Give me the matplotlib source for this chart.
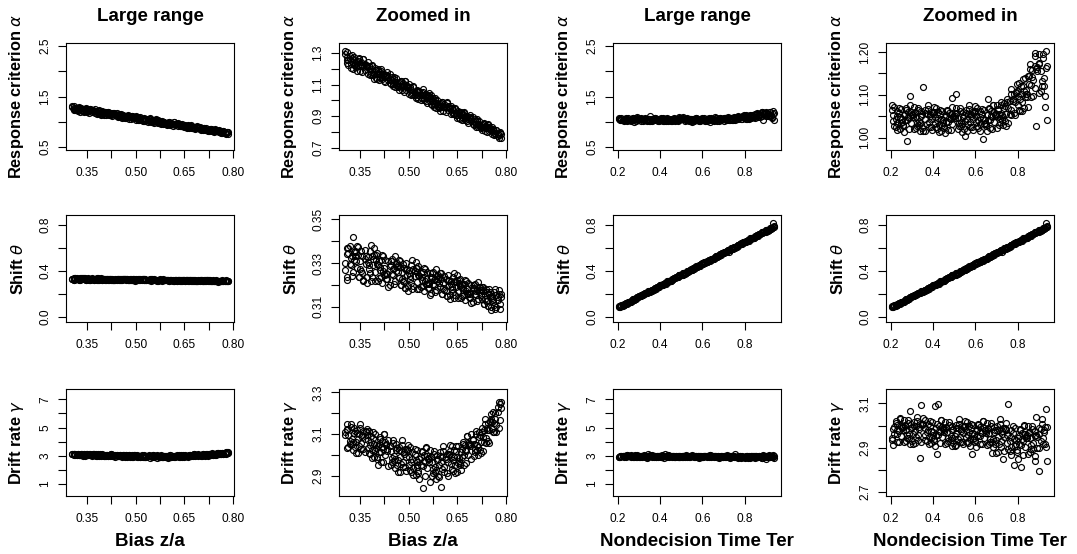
import matplotlib
matplotlib.use("Agg")
import matplotlib.pyplot as plt

plt.rcParams['font.family'] = ['Liberation Sans', 'DejaVu Sans']
plt.rcParams['mathtext.fontset'] = 'dejavusans'

# ---------------- data (two replicate runs per x value) ----------------
bias = [0.305, 0.309, 0.311, 0.314, 0.318, 0.321, 0.325, 0.328, 0.331, 0.335,
        0.338, 0.340, 0.344, 0.347, 0.350, 0.353, 0.357, 0.360, 0.364, 0.367,
        0.370, 0.373, 0.376, 0.380, 0.383, 0.386, 0.389, 0.393, 0.396, 0.399,
        0.402, 0.405, 0.409, 0.412, 0.415, 0.418, 0.422, 0.425, 0.428, 0.431,
        0.434, 0.437, 0.441, 0.444, 0.447, 0.450, 0.454, 0.457, 0.460, 0.463,
        0.466, 0.469, 0.473, 0.476, 0.479, 0.482, 0.486, 0.489, 0.492, 0.495,
        0.498, 0.501, 0.505, 0.508, 0.511, 0.514, 0.518, 0.521, 0.524, 0.527,
        0.530, 0.533, 0.537, 0.540, 0.543, 0.546, 0.550, 0.553, 0.556, 0.559,
        0.562, 0.565, 0.569, 0.572, 0.575, 0.578, 0.582, 0.585, 0.588, 0.591,
        0.594, 0.597, 0.601, 0.604, 0.607, 0.610, 0.614, 0.617, 0.620, 0.623,
        0.626, 0.629, 0.633, 0.636, 0.639, 0.642, 0.646, 0.649, 0.652, 0.655,
        0.658, 0.661, 0.665, 0.668, 0.671, 0.674, 0.678, 0.681, 0.684, 0.687,
        0.690, 0.693, 0.697, 0.700, 0.703, 0.706, 0.710, 0.713, 0.716, 0.719,
        0.722, 0.725, 0.729, 0.732, 0.735, 0.738, 0.742, 0.745, 0.748, 0.751,
        0.754, 0.757, 0.761, 0.764, 0.767, 0.770, 0.774, 0.777, 0.780, 0.784]

alpha_bias = [1.297, 1.253, 1.304, 1.224, 1.262, 1.230, 1.268, 1.201, 1.275, 1.235,
              1.209, 1.246, 1.225, 1.266, 1.187, 1.245, 1.220, 1.262, 1.195, 1.223,
              1.219, 1.168, 1.220, 1.201, 1.170, 1.226, 1.179, 1.168, 1.204, 1.145,
              1.167, 1.196, 1.132, 1.178, 1.189, 1.146, 1.161, 1.126, 1.147, 1.162,
              1.162, 1.127, 1.166, 1.103, 1.132, 1.106, 1.135, 1.083, 1.139, 1.107,
              1.083, 1.112, 1.094, 1.126, 1.063, 1.109, 1.088, 1.120, 1.067, 1.089,
              1.085, 1.042, 1.085, 1.068, 1.042, 1.088, 1.048, 1.039, 1.068, 1.019,
              1.035, 1.062, 1.002, 1.045, 1.055, 1.015, 1.029, 0.996, 1.015, 1.029,
              1.028, 0.996, 1.031, 0.973, 0.999, 0.976, 1.002, 0.954, 1.004, 0.976,
              0.954, 0.979, 0.963, 0.992, 0.934, 0.975, 0.956, 0.985, 0.936, 0.956,
              0.952, 0.913, 0.951, 0.936, 0.912, 0.953, 0.917, 0.908, 0.934, 0.889,
              0.904, 0.927, 0.875, 0.911, 0.919, 0.885, 0.896, 0.867, 0.883, 0.894,
              0.893, 0.866, 0.893, 0.846, 0.867, 0.847, 0.867, 0.828, 0.868, 0.844,
              0.826, 0.846, 0.832, 0.854, 0.808, 0.840, 0.824, 0.846, 0.807, 0.822,
              0.818, 0.788, 0.815, 0.803, 0.785, 0.814, 0.787, 0.779, 0.797, 0.762]
alpha_bias_2 = [1.315, 1.277, 1.234, 1.255, 1.282, 1.208, 1.285, 1.246, 1.223, 1.225,
                1.215, 1.187, 1.249, 1.260, 1.217, 1.228, 1.180, 1.261, 1.233, 1.220,
                1.212, 1.244, 1.221, 1.162, 1.179, 1.220, 1.162, 1.138, 1.190, 1.192,
                1.138, 1.187, 1.168, 1.148, 1.201, 1.133, 1.166, 1.170, 1.115, 1.164,
                1.177, 1.146, 1.111, 1.127, 1.148, 1.088, 1.149, 1.117, 1.098, 1.099,
                1.088, 1.065, 1.114, 1.122, 1.087, 1.095, 1.056, 1.120, 1.097, 1.086,
                1.079, 1.104, 1.085, 1.037, 1.050, 1.082, 1.035, 1.015, 1.056, 1.057,
                1.006, 1.055, 1.036, 1.016, 1.069, 1.001, 1.034, 1.038, 0.983, 1.032,
                1.045, 1.014, 0.979, 0.995, 1.016, 0.956, 1.017, 0.985, 0.966, 0.967,
                0.956, 0.933, 0.982, 0.990, 0.955, 0.963, 0.924, 0.988, 0.965, 0.954,
                0.946, 0.966, 0.950, 0.911, 0.920, 0.945, 0.907, 0.890, 0.922, 0.923,
                0.881, 0.920, 0.904, 0.887, 0.929, 0.874, 0.900, 0.902, 0.857, 0.896,
                0.906, 0.880, 0.852, 0.864, 0.880, 0.831, 0.879, 0.853, 0.837, 0.837,
                0.828, 0.809, 0.848, 0.853, 0.825, 0.830, 0.798, 0.849, 0.830, 0.820,
                0.814, 0.830, 0.816, 0.781, 0.790, 0.811, 0.777, 0.762, 0.790, 0.789]

theta_bias = [0.3299, 0.3371, 0.3235, 0.3347, 0.3379, 0.3291, 0.3331, 0.3259, 0.3315, 0.3355,
              0.3350, 0.3278, 0.3374, 0.3238, 0.3310, 0.3262, 0.3334, 0.3222, 0.3358, 0.3294,
              0.3234, 0.3306, 0.3274, 0.3354, 0.3218, 0.3330, 0.3290, 0.3370, 0.3258, 0.3314,
              0.3297, 0.3219, 0.3310, 0.3284, 0.3238, 0.3336, 0.3264, 0.3251, 0.3316, 0.3225,
              0.3252, 0.3311, 0.3200, 0.3291, 0.3317, 0.3246, 0.3278, 0.3220, 0.3265, 0.3298,
              0.3291, 0.3233, 0.3311, 0.3200, 0.3259, 0.3220, 0.3278, 0.3187, 0.3298, 0.3246,
              0.3195, 0.3253, 0.3227, 0.3292, 0.3182, 0.3273, 0.3240, 0.3305, 0.3214, 0.3260,
              0.3245, 0.3179, 0.3256, 0.3234, 0.3195, 0.3278, 0.3217, 0.3206, 0.3261, 0.3184,
              0.3205, 0.3255, 0.3161, 0.3238, 0.3260, 0.3200, 0.3227, 0.3178, 0.3216, 0.3244,
              0.3237, 0.3188, 0.3254, 0.3160, 0.3210, 0.3177, 0.3226, 0.3149, 0.3243, 0.3199,
              0.3154, 0.3203, 0.3181, 0.3236, 0.3142, 0.3220, 0.3192, 0.3247, 0.3170, 0.3209,
              0.3194, 0.3140, 0.3203, 0.3185, 0.3153, 0.3221, 0.3171, 0.3162, 0.3207, 0.3144,
              0.3159, 0.3200, 0.3123, 0.3186, 0.3204, 0.3155, 0.3177, 0.3137, 0.3168, 0.3191,
              0.3177, 0.3137, 0.3191, 0.3114, 0.3155, 0.3128, 0.3168, 0.3105, 0.3182, 0.3146,
              0.3099, 0.3139, 0.3121, 0.3166, 0.3090, 0.3153, 0.3130, 0.3175, 0.3112, 0.3144]
theta_bias_2 = [0.3269, 0.3223, 0.3343, 0.3370, 0.3297, 0.3324, 0.3241, 0.3420, 0.3352, 0.3333,
                0.3311, 0.3376, 0.3339, 0.3238, 0.3274, 0.3357, 0.3256, 0.3219, 0.3320, 0.3330,
                0.3207, 0.3327, 0.3290, 0.3253, 0.3382, 0.3235, 0.3318, 0.3336, 0.3216, 0.3336,
                0.3345, 0.3292, 0.3232, 0.3269, 0.3315, 0.3209, 0.3330, 0.3277, 0.3247, 0.3254,
                0.3227, 0.3190, 0.3288, 0.3310, 0.3250, 0.3273, 0.3205, 0.3333, 0.3295, 0.3280,
                0.3260, 0.3312, 0.3282, 0.3199, 0.3229, 0.3297, 0.3214, 0.3184, 0.3267, 0.3275,
                0.3172, 0.3270, 0.3240, 0.3210, 0.3315, 0.3195, 0.3263, 0.3278, 0.3180, 0.3278,
                0.3285, 0.3241, 0.3190, 0.3222, 0.3260, 0.3171, 0.3272, 0.3228, 0.3203, 0.3209,
                0.3184, 0.3153, 0.3235, 0.3254, 0.3203, 0.3222, 0.3166, 0.3273, 0.3241, 0.3229,
                0.3210, 0.3254, 0.3229, 0.3160, 0.3185, 0.3242, 0.3172, 0.3147, 0.3217, 0.3223,
                0.3135, 0.3217, 0.3192, 0.3167, 0.3255, 0.3154, 0.3211, 0.3224, 0.3142, 0.3224,
                0.3227, 0.3190, 0.3149, 0.3175, 0.3206, 0.3133, 0.3216, 0.3180, 0.3159, 0.3164,
                0.3142, 0.3116, 0.3184, 0.3199, 0.3158, 0.3173, 0.3126, 0.3215, 0.3189, 0.3178,
                0.3155, 0.3192, 0.3171, 0.3114, 0.3134, 0.3181, 0.3124, 0.3103, 0.3160, 0.3166,
                0.3083, 0.3151, 0.3130, 0.3109, 0.3182, 0.3099, 0.3146, 0.3156, 0.3088, 0.3156]

gamma_bias = [3.110, 3.032, 3.123, 3.097, 3.051, 3.149, 3.077, 3.064, 3.129, 3.038,
              3.062, 3.121, 3.010, 3.101, 3.127, 3.056, 3.088, 3.030, 3.075, 3.108,
              3.094, 3.036, 3.114, 3.003, 3.062, 3.023, 3.081, 2.990, 3.101, 3.049,
              2.981, 3.044, 3.016, 3.086, 2.967, 3.065, 3.030, 3.100, 3.002, 3.051,
              3.031, 2.947, 3.045, 3.017, 2.968, 3.073, 2.996, 2.982, 3.052, 2.954,
              2.976, 3.039, 2.920, 3.018, 3.046, 2.969, 3.004, 2.941, 2.990, 3.025,
              3.017, 2.954, 3.038, 2.919, 2.982, 2.940, 3.003, 2.905, 3.024, 2.968,
              2.916, 2.979, 2.951, 3.021, 2.840, 3.000, 2.965, 3.035, 2.937, 2.986,
              2.979, 2.870, 2.993, 2.965, 2.916, 3.021, 2.944, 2.930, 3.000, 2.902,
              2.951, 3.014, 2.845, 2.993, 3.021, 2.944, 2.979, 2.916, 2.965, 3.000,
              3.017, 2.956, 3.042, 2.926, 2.992, 2.952, 3.017, 2.921, 3.042, 2.988,
              2.952, 3.015, 2.992, 3.061, 2.954, 3.050, 3.021, 3.090, 3.002, 3.052,
              3.055, 2.980, 3.077, 3.055, 3.014, 3.116, 3.049, 3.040, 3.110, 3.023,
              3.062, 3.127, 3.021, 3.118, 3.149, 3.083, 3.121, 3.068, 3.119, 3.158,
              3.171, 3.125, 3.205, 3.110, 3.172, 3.144, 3.206, 3.129, 3.245, 3.225]
gamma_bias_2 = [3.098, 3.150, 3.120, 3.038, 3.068, 3.135, 3.053, 3.023, 3.105, 3.113,
                3.008, 3.105, 3.075, 3.045, 3.150, 3.030, 3.098, 3.113, 3.015, 3.113,
                3.123, 3.070, 3.010, 3.048, 3.093, 2.988, 3.108, 3.055, 3.025, 3.033,
                2.990, 2.950, 3.054, 3.078, 3.014, 3.038, 2.966, 3.102, 3.062, 3.046,
                3.018, 3.074, 3.042, 2.954, 2.986, 3.058, 2.970, 2.938, 3.026, 3.034,
                2.918, 3.022, 2.990, 2.958, 3.070, 2.942, 3.014, 3.030, 2.926, 3.030,
                3.047, 2.991, 2.927, 2.967, 3.015, 2.903, 3.031, 2.975, 2.943, 2.951,
                2.925, 2.885, 2.989, 3.013, 2.949, 2.973, 2.901, 3.037, 2.997, 2.981,
                2.966, 3.022, 2.990, 2.902, 2.934, 3.006, 2.918, 2.886, 2.974, 2.982,
                2.893, 2.997, 2.965, 2.933, 3.045, 2.917, 2.989, 3.005, 2.901, 3.005,
                3.047, 2.993, 2.931, 2.974, 3.024, 2.914, 3.044, 2.991, 2.961, 2.971,
                2.961, 2.927, 3.028, 3.054, 2.998, 3.025, 2.961, 3.093, 3.058, 3.047,
                3.043, 3.099, 3.074, 2.996, 3.031, 3.102, 3.025, 2.999, 3.086, 3.098,
                3.008, 3.111, 3.086, 3.062, 3.172, 3.058, 3.131, 3.152, 3.059, 3.163,
                3.198, 3.157, 3.109, 3.151, 3.201, 3.111, 3.231, 3.255, 3.169, 3.252]

ter = [0.208, 0.213, 0.217, 0.223, 0.228, 0.232, 0.238, 0.243, 0.247, 0.252,
       0.257, 0.262, 0.266, 0.272, 0.277, 0.281, 0.287, 0.292, 0.296, 0.301,
       0.306, 0.311, 0.315, 0.321, 0.326, 0.330, 0.336, 0.341, 0.345, 0.350,
       0.355, 0.360, 0.364, 0.370, 0.375, 0.379, 0.385, 0.390, 0.394, 0.399,
       0.404, 0.409, 0.413, 0.419, 0.424, 0.428, 0.434, 0.439, 0.443, 0.448,
       0.453, 0.458, 0.462, 0.468, 0.473, 0.477, 0.483, 0.488, 0.492, 0.497,
       0.502, 0.507, 0.511, 0.517, 0.522, 0.526, 0.532, 0.537, 0.541, 0.546,
       0.551, 0.556, 0.560, 0.566, 0.571, 0.575, 0.581, 0.586, 0.590, 0.595,
       0.600, 0.605, 0.609, 0.615, 0.620, 0.624, 0.630, 0.635, 0.639, 0.644,
       0.649, 0.654, 0.658, 0.664, 0.669, 0.673, 0.679, 0.684, 0.688, 0.693,
       0.698, 0.703, 0.707, 0.713, 0.718, 0.722, 0.728, 0.733, 0.737, 0.742,
       0.747, 0.752, 0.756, 0.762, 0.767, 0.771, 0.777, 0.782, 0.786, 0.791,
       0.796, 0.801, 0.805, 0.811, 0.816, 0.820, 0.826, 0.831, 0.835, 0.840,
       0.845, 0.850, 0.854, 0.860, 0.865, 0.869, 0.875, 0.880, 0.884, 0.889,
       0.894, 0.899, 0.903, 0.909, 0.914, 0.918, 0.924, 0.929, 0.933, 0.940]

alpha_ter = [1.064, 1.039, 1.072, 1.025, 1.050, 1.033, 1.058, 1.019, 1.067, 1.044,
             1.026, 1.052, 1.040, 1.068, 0.992, 1.060, 1.046, 1.098, 1.035, 1.054,
             1.053, 1.020, 1.059, 1.048, 1.028, 1.070, 1.039, 1.034, 1.062, 1.023,
             1.118, 1.064, 1.016, 1.055, 1.066, 1.036, 1.050, 1.024, 1.044, 1.058,
             1.060, 1.035, 1.068, 1.021, 1.046, 1.029, 1.054, 1.015, 1.063, 1.040,
             1.023, 1.049, 1.037, 1.065, 1.018, 1.057, 1.043, 1.071, 1.032, 1.051,
             1.051, 1.102, 1.057, 1.046, 1.026, 1.068, 1.037, 1.032, 1.060, 1.021,
             1.038, 1.064, 1.016, 1.055, 1.066, 1.036, 1.050, 1.024, 1.044, 1.058,
             1.062, 1.037, 1.070, 1.023, 1.048, 1.031, 1.056, 0.996, 1.065, 1.042,
             1.027, 1.053, 1.041, 1.069, 1.022, 1.061, 1.047, 1.075, 1.036, 1.055,
             1.056, 1.022, 1.066, 1.056, 1.037, 1.084, 1.053, 1.049, 1.080, 1.039,
             1.056, 1.091, 1.033, 1.085, 1.102, 1.065, 1.086, 1.057, 1.084, 1.105,
             1.109, 1.076, 1.128, 1.063, 1.102, 1.082, 1.121, 1.068, 1.140, 1.111,
             1.103, 1.144, 1.126, 1.171, 1.094, 1.158, 1.135, 1.198, 1.117, 1.028,
             1.165, 1.105, 1.175, 1.155, 1.120, 1.195, 1.140, 1.072, 1.203, 1.040]
alpha_ter_2 = [1.076, 1.053, 1.028, 1.044, 1.063, 1.018, 1.069, 1.047, 1.034, 1.037,
               1.030, 1.014, 1.056, 1.065, 1.040, 1.049, 1.020, 1.075, 1.059, 1.052,
               1.048, 1.071, 1.058, 1.023, 1.035, 1.064, 1.029, 1.016, 1.051, 1.055,
               1.015, 1.057, 1.044, 1.031, 1.076, 1.025, 1.054, 1.060, 1.018, 1.060,
               1.072, 1.049, 1.024, 1.040, 1.059, 1.014, 1.065, 1.043, 1.030, 1.033,
               1.027, 1.011, 1.053, 1.062, 1.037, 1.046, 1.017, 1.092, 1.056, 1.049,
               1.046, 1.069, 1.056, 1.021, 1.033, 1.062, 1.027, 1.014, 1.049, 1.053,
               1.003, 1.057, 1.044, 1.031, 1.076, 1.025, 1.054, 1.060, 1.018, 1.060,
               1.074, 1.051, 1.026, 1.042, 1.061, 1.016, 1.067, 1.045, 1.032, 1.035,
               1.031, 1.015, 1.090, 1.066, 1.041, 1.050, 1.021, 1.076, 1.060, 1.053,
               1.050, 1.076, 1.065, 1.029, 1.045, 1.077, 1.042, 1.030, 1.069, 1.073,
               1.027, 1.082, 1.068, 1.055, 1.114, 1.052, 1.091, 1.102, 1.052, 1.107,
               1.126, 1.097, 1.064, 1.090, 1.121, 1.061, 1.137, 1.108, 1.094, 1.101,
               1.094, 1.071, 1.143, 1.161, 1.123, 1.142, 1.098, 1.190, 1.168, 1.160,
               1.156, 1.196, 1.173, 1.109, 1.133, 1.185, 1.121, 1.098, 1.162, 1.167]

theta_ter = [0.091, 0.090, 0.101, 0.097, 0.108, 0.108, 0.119, 0.116, 0.130, 0.130,
             0.129, 0.140, 0.141, 0.153, 0.148, 0.161, 0.164, 0.175, 0.170, 0.179,
             0.182, 0.180, 0.192, 0.196, 0.197, 0.210, 0.209, 0.213, 0.223, 0.220,
             0.226, 0.236, 0.230, 0.244, 0.252, 0.249, 0.258, 0.258, 0.266, 0.274,
             0.277, 0.277, 0.288, 0.284, 0.294, 0.295, 0.306, 0.303, 0.317, 0.317,
             0.316, 0.326, 0.328, 0.340, 0.335, 0.347, 0.350, 0.361, 0.357, 0.366,
             0.369, 0.366, 0.379, 0.382, 0.383, 0.396, 0.396, 0.399, 0.409, 0.406,
             0.412, 0.423, 0.417, 0.431, 0.438, 0.436, 0.445, 0.444, 0.453, 0.461,
             0.464, 0.463, 0.475, 0.470, 0.481, 0.481, 0.493, 0.489, 0.503, 0.504,
             0.503, 0.513, 0.515, 0.527, 0.521, 0.534, 0.537, 0.548, 0.543, 0.553,
             0.555, 0.553, 0.565, 0.569, 0.570, 0.583, 0.566, 0.586, 0.596, 0.593,
             0.599, 0.609, 0.603, 0.618, 0.625, 0.622, 0.631, 0.631, 0.639, 0.647,
             0.650, 0.650, 0.661, 0.657, 0.667, 0.668, 0.679, 0.676, 0.690, 0.690,
             0.689, 0.700, 0.701, 0.713, 0.708, 0.720, 0.723, 0.734, 0.730, 0.739,
             0.742, 0.740, 0.752, 0.756, 0.756, 0.769, 0.769, 0.773, 0.815, 0.781]
theta_ter_2 = [0.093, 0.093, 0.092, 0.101, 0.111, 0.105, 0.122, 0.122, 0.123, 0.129,
               0.130, 0.132, 0.145, 0.153, 0.152, 0.158, 0.158, 0.175, 0.175, 0.179,
               0.181, 0.191, 0.192, 0.190, 0.198, 0.209, 0.207, 0.209, 0.221, 0.226,
               0.221, 0.235, 0.236, 0.239, 0.254, 0.247, 0.259, 0.265, 0.260, 0.274,
               0.280, 0.280, 0.278, 0.288, 0.297, 0.291, 0.309, 0.309, 0.310, 0.316,
               0.317, 0.318, 0.331, 0.339, 0.339, 0.345, 0.345, 0.362, 0.362, 0.366,
               0.368, 0.377, 0.379, 0.377, 0.385, 0.395, 0.393, 0.396, 0.407, 0.413,
               0.407, 0.421, 0.423, 0.426, 0.441, 0.433, 0.446, 0.452, 0.447, 0.461,
               0.466, 0.467, 0.465, 0.474, 0.484, 0.478, 0.495, 0.495, 0.496, 0.502,
               0.503, 0.505, 0.518, 0.526, 0.525, 0.532, 0.531, 0.548, 0.549, 0.552,
               0.554, 0.564, 0.565, 0.564, 0.571, 0.582, 0.580, 0.582, 0.594, 0.600,
               0.594, 0.608, 0.609, 0.612, 0.627, 0.620, 0.632, 0.639, 0.634, 0.648,
               0.653, 0.653, 0.652, 0.661, 0.670, 0.664, 0.682, 0.682, 0.683, 0.689,
               0.690, 0.691, 0.705, 0.713, 0.712, 0.718, 0.718, 0.735, 0.735, 0.739,
               0.741, 0.751, 0.752, 0.750, 0.758, 0.768, 0.767, 0.769, 0.780, 0.788]

gamma_ter = [2.937, 2.986, 2.964, 3.019, 2.925, 3.003, 2.975, 3.030, 2.953, 2.992,
             2.992, 2.926, 3.003, 2.981, 2.942, 3.025, 2.964, 3.065, 3.008, 2.931,
             2.964, 3.014, 2.920, 2.997, 3.019, 2.959, 2.986, 2.852, 3.095, 3.003,
             3.008, 2.959, 3.025, 2.931, 2.981, 2.948, 2.997, 2.920, 3.014, 2.970,
             2.932, 3.088, 2.959, 2.872, 3.098, 2.998, 2.970, 3.025, 2.948, 2.987,
             2.982, 2.916, 2.993, 2.971, 2.932, 3.015, 2.954, 2.943, 2.998, 2.921,
             2.954, 3.004, 2.910, 2.987, 3.009, 2.949, 2.976, 2.927, 2.965, 2.993,
             2.998, 2.949, 3.015, 2.921, 2.971, 2.938, 2.987, 2.872, 3.004, 2.960,
             2.927, 2.976, 2.954, 3.009, 2.916, 2.993, 2.965, 3.020, 2.943, 2.982,
             2.977, 2.911, 2.988, 2.966, 2.927, 3.010, 2.875, 2.938, 2.993, 2.916,
             2.936, 2.999, 2.880, 2.978, 3.006, 2.929, 2.964, 2.848, 2.950, 2.985,
             2.982, 2.919, 3.098, 2.884, 2.947, 2.905, 2.968, 2.822, 2.989, 2.933,
             2.881, 2.944, 2.916, 2.986, 2.812, 2.965, 2.930, 3.000, 2.902, 2.951,
             2.956, 2.872, 2.970, 2.942, 2.893, 2.998, 2.921, 2.840, 2.977, 3.040,
             2.948, 2.795, 2.900, 2.984, 3.008, 2.942, 2.972, 2.918, 3.075, 2.842]
gamma_ter_2 = [2.943, 2.912, 2.994, 3.013, 2.962, 2.981, 2.925, 3.032, 3.000, 2.988,
               2.981, 3.025, 3.000, 2.931, 2.956, 3.013, 2.943, 2.918, 2.988, 2.994,
               2.918, 3.000, 2.975, 2.950, 3.038, 2.937, 2.994, 3.007, 2.925, 3.007,
               3.032, 2.988, 2.937, 2.969, 3.007, 2.918, 3.019, 2.975, 2.950, 2.956,
               2.938, 2.907, 2.989, 3.008, 2.957, 2.976, 2.920, 3.027, 2.995, 2.983,
               2.971, 3.015, 2.990, 2.921, 2.946, 3.003, 2.933, 2.908, 2.978, 2.984,
               2.908, 2.990, 2.965, 2.940, 3.028, 2.927, 2.984, 2.997, 2.915, 2.997,
               3.022, 2.978, 2.927, 2.959, 2.997, 2.908, 3.009, 2.965, 2.940, 2.946,
               2.933, 2.902, 2.984, 3.003, 2.952, 2.971, 2.915, 3.022, 2.990, 2.978,
               2.966, 3.010, 2.985, 2.916, 2.941, 2.998, 2.928, 2.903, 2.973, 2.979,
               2.878, 2.982, 2.950, 2.918, 3.030, 2.902, 2.974, 2.990, 2.886, 2.990,
               3.012, 2.956, 2.892, 2.932, 2.980, 2.868, 2.996, 2.940, 2.908, 2.916,
               2.890, 2.850, 2.954, 2.978, 2.914, 2.938, 2.866, 3.002, 2.962, 2.946,
               2.943, 2.999, 2.967, 2.879, 2.911, 2.983, 2.895, 2.863, 2.951, 2.959,
               2.897, 2.988, 2.960, 2.932, 3.030, 2.918, 2.981, 2.995, 2.904, 2.995]

titles = ["Large range", "Zoomed in", "Large range", "Zoomed in"]
ylabels = [r"Response criterion $\alpha$", r"Shift $\theta$", r"Drift rate $\gamma$"]
xlabels = ["Bias z/a", "Bias z/a", "Nondecision Time Ter", "Nondecision Time Ter"]

bias_ticks = [0.35, 0.425, 0.50, 0.575, 0.65, 0.725, 0.80]
bias_ticklabels = ["0.35", "", "0.50", "", "0.65", "", "0.80"]
ter_ticks = [0.2, 0.4, 0.6, 0.8]
ter_ticklabels = ["0.2", "0.4", "0.6", "0.8"]

# y axis per panel: (ylim, ticks, labels)
Y_ALPHA_L = ((0.44, 2.56), [0.5, 1.0, 1.5, 2.0, 2.5], ["0.5", "", "1.5", "", "2.5"])
Y_ALPHA_ZB = ((0.685, 1.364), [0.7, 0.8, 0.9, 1.0, 1.1, 1.2, 1.3],
              ["0.7", "", "0.9", "", "1.1", "", "1.3"])
Y_ALPHA_ZT = ((0.971, 1.221), [1.00, 1.05, 1.10, 1.15, 1.20], ["1.00", "", "1.10", "", "1.20"])
Y_THETA_L = ((-0.043, 0.886), [0.0, 0.2, 0.4, 0.6, 0.8], ["0.0", "", "0.4", "", "0.8"])
Y_THETA_ZB = ((0.303, 0.352), [0.31, 0.32, 0.33, 0.34, 0.35], ["0.31", "", "0.33", "", "0.35"])
Y_GAMMA_L = ((0.15, 7.73), [1, 2, 3, 4, 5, 6, 7], ["1", "", "3", "", "5", "", "7"])
Y_GAMMA_ZB = ((2.804, 3.316), [2.9, 3.0, 3.1, 3.2, 3.3], ["2.9", "", "3.1", "", "3.3"])
Y_GAMMA_ZT = ((2.682, 3.165), [2.7, 2.8, 2.9, 3.0, 3.1], ["2.7", "", "2.9", "", "3.1"])

A_B = (alpha_bias, alpha_bias_2)
T_B = (theta_bias, theta_bias_2)
G_B = (gamma_bias, gamma_bias_2)
A_T = (alpha_ter, alpha_ter_2)
T_T = (theta_ter, theta_ter_2)
G_T = (gamma_ter, gamma_ter_2)

rows = [
    [(bias, A_B, Y_ALPHA_L), (bias, A_B, Y_ALPHA_ZB), (ter, A_T, Y_ALPHA_L), (ter, A_T, Y_ALPHA_ZT)],
    [(bias, T_B, Y_THETA_L), (bias, T_B, Y_THETA_ZB), (ter, T_T, Y_THETA_L), (ter, T_T, Y_THETA_L)],
    [(bias, G_B, Y_GAMMA_L), (bias, G_B, Y_GAMMA_ZB), (ter, G_T, Y_GAMMA_L), (ter, G_T, Y_GAMMA_ZT)],
]

# ---------------- layout (pixels) ----------------
W, H = 1077, 554
col_left = [66, 339, 613, 886]
row_top = [43, 215, 389]
pw, ph = 168, 107

fig = plt.figure(figsize=(W / 100, H / 100), dpi=100)
fig.patch.set_facecolor("white")

for r in range(3):
    for c in range(4):
        xs, reps, (ylim, yt, ytl) = rows[r][c]
        ax = fig.add_axes([col_left[c] / W, (H - row_top[r] - ph) / H, pw / W, ph / H])
        for ys in reps:
            ax.plot(xs, ys, ls="none", marker="o", ms=4.3, mfc="none", mec="black", mew=0.85)
        if xs is bias:
            ax.set_xlim(0.285, 0.803)
            ax.set_xticks(bias_ticks)
            ax.set_xticklabels(bias_ticklabels)
        else:
            ax.set_xlim(0.178, 0.972)
            ax.set_xticks(ter_ticks)
            ax.set_xticklabels(ter_ticklabels)
        ax.set_ylim(*ylim)
        ax.set_yticks(yt)
        ax.set_yticklabels(ytl, rotation=90, va="center")
        ax.tick_params(direction="out", length=5.5, width=0.8, labelsize=8.6, color="black")
        ax.tick_params(axis="x", pad=7.0)
        ax.tick_params(axis="y", pad=5.0)
        for s in ax.spines.values():
            s.set_linewidth(0.8)
        ax.set_ylabel(ylabels[r], fontsize=11.8, fontweight="bold")
        ax.yaxis.set_label_coords(-40 / pw, 0.5)
        if r == 0:
            ax.set_title(titles[c], fontsize=13.5, fontweight="bold", pad=15.5)
        if r == 2:
            ax.set_xlabel(xlabels[c], fontsize=13.5, fontweight="bold")
            ax.xaxis.set_label_coords(0.5, -37 / ph)

fig.savefig("out.png", dpi=100)
